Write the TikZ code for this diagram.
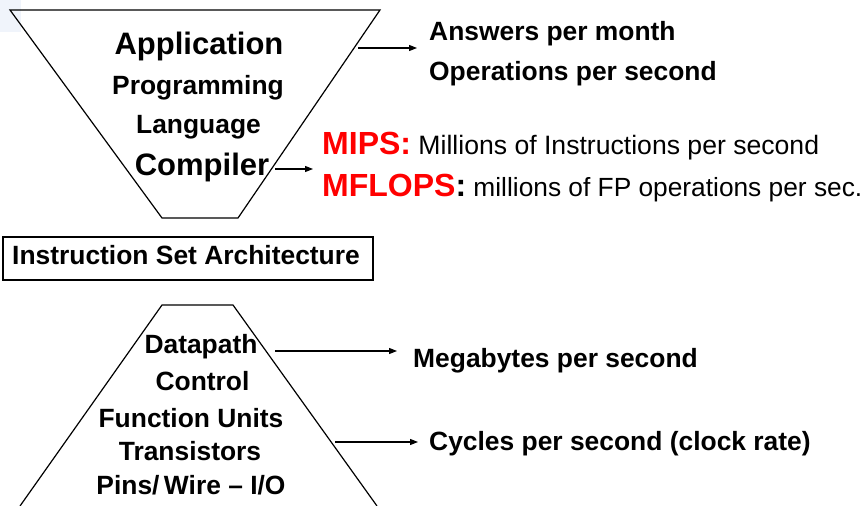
\documentclass[tikz,border=0pt]{standalone}
\usepackage{fontspec}
\setmainfont{Liberation Sans}
\usetikzlibrary{arrows.meta}
\definecolor{mipsred}{RGB}{255,0,0}
\definecolor{paleblue}{RGB}{240,244,251}
\newcommand{\fs}[1]{\fontsize{#1}{#1}\selectfont}
\tikzset{
  edge/.style={line width=1.2pt, line join=miter},
  conn/.style={line width=1.1pt, -{Triangle[length=8pt,width=6pt]}},
  lbl/.style={inner sep=0pt, anchor=base},
  lft/.style={inner sep=0pt, anchor=base west},
  big/.style={font=\bfseries\fs{31}},
  mid/.style={font=\bfseries\fs{26.4}},
}
\begin{document}
\begin{tikzpicture}[x=1pt, y=-1pt]
\useasboundingbox (0,0) rectangle (868,506);
\fill[paleblue] (0,0) rectangle (21,32);

% software levels: inverted trapezoid
\draw[edge] (10,10) -- (380,10) -- (238,218) -- (162,218) -- cycle;
\node[lbl, big] (app)  at (199,54)  {Application};
\node[lbl, mid] (prog) at (198,94)  {Programming};
\node[lbl, mid] (lang) at (198.5,133) {Language};
\node[lbl, big] (comp) at (202,175) {Compiler};

% metrics for the upper levels
\node[lft, mid] (ans) at (429,40) {Answers per month};
\node[lft, mid] (ops) at (429,80) {Operations per second};
\node[lft, font=\fs{26.6}] (mips) at (322,154)
  {\textcolor{mipsred}{\bfseries\fs{32}MIPS:} Millions of Instructions per second};
\node[lft, font=\fs{26.3}] (mflops) at (322,196)
  {\textcolor{mipsred}{\bfseries\fs{32}MFLOPS}{\bfseries\fs{32}:} millions of FP operations per sec.};

\coordinate (a1s) at (358,48);
\coordinate (a1e) at (417,48);
\coordinate (a2s) at (275,169);
\coordinate (a2e) at (313,169);
\draw[conn] (a1s) -- (a1e);
\draw[conn] (a2s) -- (a2e);

% interface
\draw[edge] (3,237) rectangle (373,280);
\node[lbl, mid] (isa) at (186,264) {Instruction Set Architecture};

% hardware levels: trapezoid
\draw[edge] (20,506) -- (162,305) -- (233,305) -- (377,506);
\node[lbl, mid] (dp)   at (201,353) {Datapath};
\node[lbl, mid] (ctl)  at (202.5,390) {Control};
\node[lbl, mid] (fu)   at (191,427) {Function Units};
\node[lbl, mid] (tr)   at (190,460) {Transistors};
\node[lbl, mid] (pins) at (191,494) {Pins/\,Wire -- I/O};

% metrics for the lower levels
\node[lft, mid] (mb)  at (413,367) {Megabytes per second};
\node[lft, mid] (cyc) at (429,450) {Cycles per second (clock rate)};

\coordinate (b1s) at (275,351);
\coordinate (b1e) at (397,351);
\coordinate (b2s) at (335,442);
\coordinate (b2e) at (418,442);
\draw[conn] (b1s) -- (b1e);
\draw[conn] (b2s) -- (b2e);
\end{tikzpicture}
\end{document}
